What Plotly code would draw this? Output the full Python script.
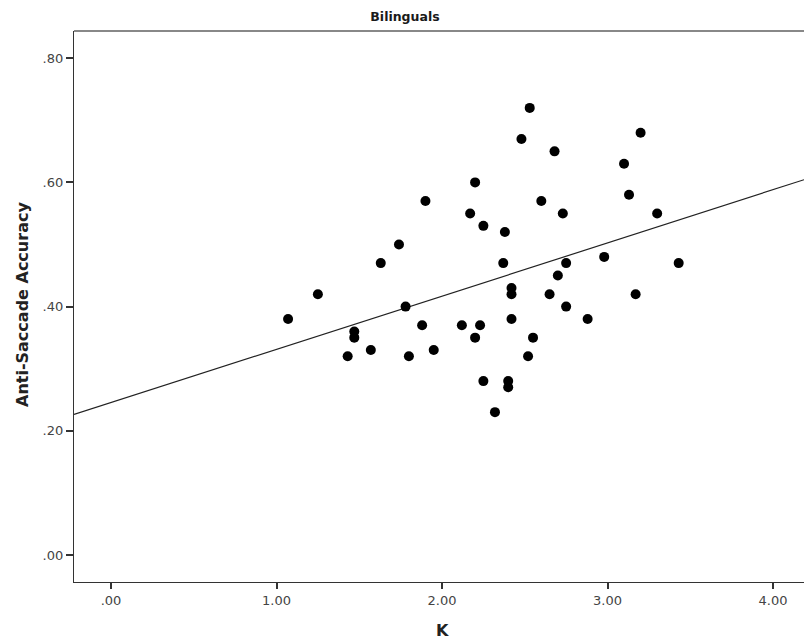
import numpy as np
import plotly.graph_objects as go

# Data (K vs Anti-Saccade Accuracy, bilinguals)
k_values = [1.07, 1.25, 1.63, 1.74, 1.47, 1.47, 1.43, 1.57, 2.53, 2.48,
            2.68, 3.20, 3.10, 2.20, 1.90, 2.60, 2.17, 2.73, 3.13, 3.30,
            2.25, 2.38, 1.78, 2.37, 2.75, 2.98, 3.43, 2.70, 2.42, 2.42,
            2.65, 3.17, 2.75, 1.88, 2.12, 2.23, 2.42, 2.88, 2.20, 2.55,
            1.80, 1.95, 2.52, 2.25, 2.40, 2.40, 2.32]
accuracy = [0.38, 0.42, 0.47, 0.50, 0.36, 0.35, 0.32, 0.33, 0.72, 0.67,
            0.65, 0.68, 0.63, 0.60, 0.57, 0.57, 0.55, 0.55, 0.58, 0.55,
            0.53, 0.52, 0.40, 0.47, 0.47, 0.48, 0.47, 0.45, 0.43, 0.42,
            0.42, 0.42, 0.40, 0.37, 0.37, 0.37, 0.38, 0.38, 0.35, 0.35,
            0.32, 0.33, 0.32, 0.28, 0.28, 0.27, 0.23]

x_tick_vals = [0, 1, 2, 3, 4]
x_tick_text = [".00", "1.00", "2.00", "3.00", "4.00"]
y_tick_vals = [0.0, 0.2, 0.4, 0.6, 0.8]
y_tick_text = [".00", ".20", ".40", ".60", ".80"]

x_range = [-0.2236, 4.1873]
y_range = [-0.0435, 0.8438]

# Linear fit line (least squares) over the visible x range
slope, intercept = np.polyfit(k_values, accuracy, 1)
fit_x = np.array(x_range)
fit_y = intercept + slope * fit_x

FONT = "DejaVu Sans"
AXIS_COLOR = "#333333"

W, H = 804, 644
L, T, B = 74, 31, 62
PW, PH = W - L, H - T - B

fig = go.Figure()
fig.add_trace(go.Scatter(
    x=fit_x, y=fit_y, mode="lines",
    line=dict(color="#222222", width=1.2),
    hoverinfo="skip", showlegend=False,
))
fig.add_trace(go.Scatter(
    x=k_values, y=accuracy, mode="markers",
    marker=dict(color="black", size=10, line=dict(width=0)),
    showlegend=False,
))

fig.update_layout(
    width=W, height=H,
    margin=dict(l=L, r=0, t=T, b=B, pad=0),
    paper_bgcolor="white", plot_bgcolor="white",
    font=dict(family=FONT, color=AXIS_COLOR),
    title=dict(text="<b>Bilinguals</b>", x=405 / W, xanchor="center",
               y=1 - 17 / H, yanchor="middle", yref="container",
               font=dict(family=FONT, size=12.5, color="#1a1a1a")),
    xaxis=dict(range=x_range, showgrid=False, zeroline=False,
               showline=True, linecolor=AXIS_COLOR, linewidth=1.3,
               ticks="outside", ticklen=6, tickwidth=1.5, tickcolor=AXIS_COLOR,
               tickvals=x_tick_vals, ticktext=x_tick_text,
               tickfont=dict(family=FONT, size=13, color="#444444")),
    yaxis=dict(range=y_range, showgrid=False, zeroline=False,
               showline=True, linecolor=AXIS_COLOR, linewidth=1.3,
               ticks="outside", ticklen=7, tickwidth=1.5, tickcolor=AXIS_COLOR,
               tickvals=y_tick_vals, ticktext=y_tick_text,
               tickfont=dict(family=FONT, size=13, color="#444444")),
    shapes=[dict(type="line", xref="paper", yref="paper",
                 x0=0, x1=1, y0=1, y1=1,
                 line=dict(color="#888888", width=2))],
    annotations=[
        dict(text="<b>K</b>", xref="paper", yref="paper",
             x=(442 - L) / PW, y=(H - B - 630) / PH,
             xanchor="center", yanchor="middle", showarrow=False,
             font=dict(family=FONT, size=16, color="#222222")),
        dict(text="<b>Anti-Saccade Accuracy</b>", xref="paper", yref="paper",
             x=(22 - L) / PW, y=(H - B - 305) / PH, textangle=-90,
             xanchor="center", yanchor="middle", showarrow=False,
             font=dict(family=FONT, size=16, color="#222222")),
    ],
)

# Remove the browser's default body margin so the figure fills the window.
fig.write_html(
    "out.html",
    config={"displayModeBar": False},
    post_script="document.body.style.margin='0';document.body.style.overflow='hidden';",
)
